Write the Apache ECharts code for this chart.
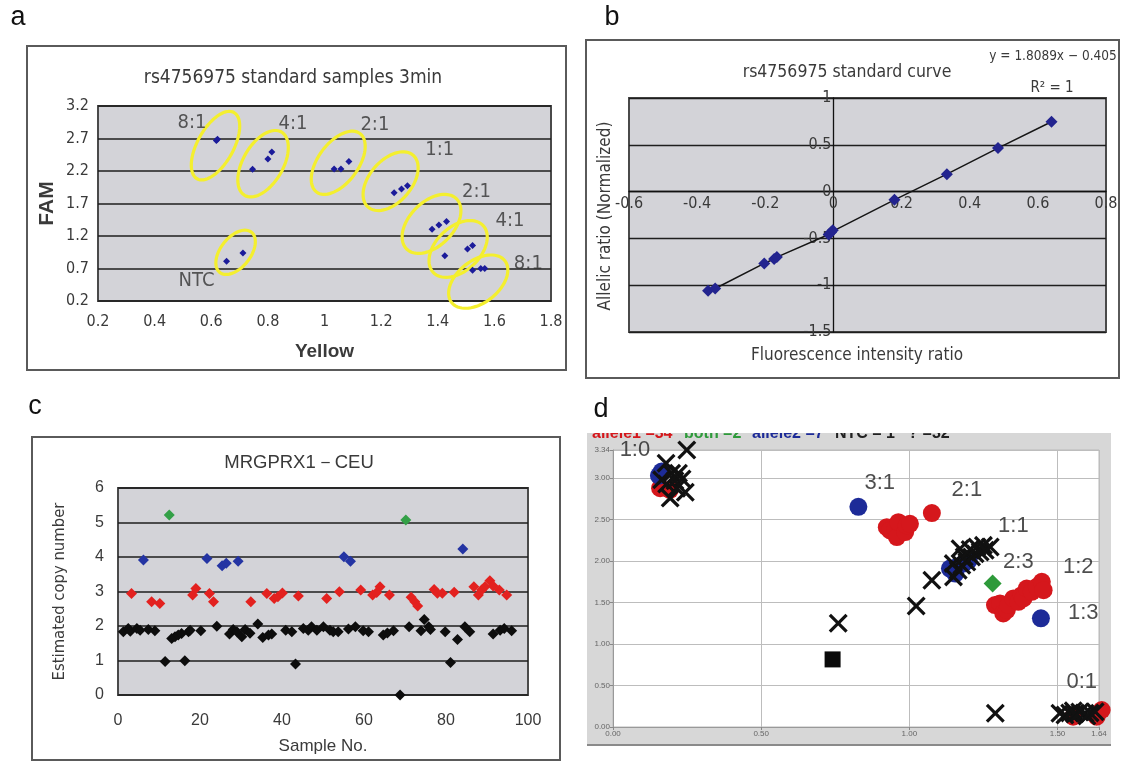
<!DOCTYPE html>
<html><head><meta charset="utf-8">
<script src="https://cdn.jsdelivr.net/npm/echarts@6/dist/echarts.min.js"></script>
<style>html,body{margin:0;padding:0;background:#fff}#main{width:1124px;height:763px}</style>
</head><body><div id="main"></div>
<script>
// ---------- Panel a: rs4756975 standard samples 3min ----------
const aYellow = [0.622,0.618,0.746,0.800,0.814,1.034,1.058,1.086,1.246,1.272,1.293,1.380,1.404,1.431,1.425,1.505,1.523,1.523,1.552,1.566,0.654,0.712];
const aFAM    = [2.69,2.67,2.226,2.385,2.494,2.23,2.23,2.345,1.866,1.922,1.974,1.303,1.37,1.423,0.897,0.999,1.052,0.672,0.70,0.70,0.81,0.937];
// ellipse ends (x1,y1,x2,y2) in data units
const aEllipses = [
  [0.680,3.10,0.550,2.08],
  [0.848,2.80,0.718,1.825],
  [1.125,2.777,0.972,1.876],
  [1.313,2.443,1.154,1.644],
  [1.466,1.773,1.290,1.000],
  [1.560,1.362,1.384,0.640],
  [1.637,0.820,1.449,0.176],
  [0.742,1.258,0.630,0.640]
];
const aLabelText = ['8:1','4:1','2:1','1:1','2:1','4:1','8:1','NTC'];
const aLabelX = [0.532,0.889,1.178,1.407,1.537,1.655,1.72,0.548];
const aLabelY = [2.94,2.93,2.91,2.52,1.876,1.44,0.768,0.51];

// ---------- Panel b: standard curve ----------
const bX = [-0.368,-0.347,-0.203,-0.174,-0.166,-0.014,-0.007,-0.002,0.179,0.333,0.483,0.640];
const bY = [-1.06,-1.035,-0.767,-0.72,-0.70,-0.458,-0.433,-0.412,-0.088,0.186,0.465,0.746];

// ---------- Panel c: MRGPRX1-CEU ----------
const cBlack = [[1.3,1.83],[2.5,1.93],[3.0,1.85],[4.6,1.93],[5.4,1.88],[7.4,1.90],[9.0,1.86],[11.5,0.97],[13.1,1.64],[13.9,1.69],[14.7,1.74],[15.5,1.78],[16.3,0.99],[17.2,1.83],[17.6,1.88],[20.2,1.86],[24.1,1.99],[27.2,1.77],[28.1,1.90],[29.0,1.83],[30.2,1.69],[31.0,1.90],[32.2,1.79],[34.1,2.06],[35.3,1.67],[36.7,1.74],[37.5,1.77],[40.9,1.88],[42.4,1.83],[43.3,0.90],[45.2,1.93],[46.4,1.88],[47.2,1.98],[48.5,1.88],[50.1,1.98],[51.7,1.88],[52.5,1.83],[53.7,1.83],[56.2,1.91],[57.9,1.98],[59.8,1.86],[61.1,1.83],[64.7,1.74],[65.7,1.80],[67.2,1.86],[68.8,0.0],[71.0,1.98],[73.9,1.86],[74.7,2.19],[75.8,1.98],[76.2,1.90],[79.8,1.83],[81.1,0.94],[82.8,1.61],[84.6,1.98],[85.8,1.83],[91.5,1.77],[93.2,1.88],[94.2,1.93],[96.0,1.86]];
const cRed = [[3.3,2.94],[8.2,2.70],[10.2,2.65],[18.2,2.90],[19.0,3.09],[22.3,2.94],[23.3,2.70],[32.4,2.70],[36.3,2.94],[38.1,2.80],[39.0,2.85],[40.1,2.96],[44.0,2.87],[50.9,2.80],[54.0,2.99],[59.2,3.04],[62.1,2.90],[63.1,2.97],[63.9,3.14],[66.2,2.90],[71.5,2.83],[72.4,2.70],[73.1,2.58],[77.1,3.06],[77.9,2.95],[79.1,2.95],[82.0,2.98],[86.8,3.14],[87.9,2.90],[88.7,3.04],[89.5,3.14],[90.7,3.31],[91.5,3.16],[93.0,3.04],[94.8,2.90]];
const cBlue = [[6.2,3.91],[21.7,3.96],[25.4,3.75],[26.4,3.82],[29.3,3.88],[55.1,4.01],[56.7,3.88],[84.1,4.23]];
const cGreen = [[12.5,5.22],[70.2,5.07]];

// ---------- Panel d: allele cluster plot ----------
const dRed = [[0.159,2.88],[0.192,2.86],[0.924,2.41],[0.935,2.37],[0.953,2.39],[0.958,2.29],[0.963,2.47],[0.986,2.35],[0.991,2.43],[1.002,2.45],[1.076,2.58],[1.289,1.47],[1.306,1.49],[1.317,1.37],[1.329,1.41],[1.334,1.47],[1.351,1.55],[1.368,1.51],[1.379,1.59],[1.385,1.55],[1.396,1.67],[1.413,1.63],[1.430,1.69],[1.447,1.75],[1.453,1.65],[1.553,0.125],[1.632,0.125],[1.649,0.205]];
const dBlue = [[0.164,3.08],[0.155,3.03],[0.828,2.655],[1.137,1.91],[1.155,1.85],[1.160,1.93],[1.183,1.97],[1.200,2.01],[1.444,1.31]];
const dGreen = [[1.281,1.73]];
const dNTC = [[0.741,0.815]];
const dUnknown = [[0.249,3.34],[0.179,3.18],[0.198,3.06],[0.181,2.93],[0.233,2.99],[0.244,2.83],[0.193,2.76],[0.215,2.88],[0.164,2.98],[0.209,2.97],[0.221,3.06],[0.760,1.25],[1.023,1.46],[1.076,1.77],[1.149,1.81],[1.148,1.97],[1.165,1.89],[1.171,2.15],[1.177,1.95],[1.185,2.05],[1.194,1.99],[1.205,2.14],[1.210,2.05],[1.222,2.09],[1.228,2.17],[1.239,2.11],[1.250,2.19],[1.256,2.13],[1.273,2.17],[1.290,0.165],[1.508,0.165],[1.525,0.145],[1.541,0.17],[1.553,0.197],[1.558,0.157],[1.575,0.18],[1.593,0.165],[1.599,0.133],[1.610,0.17],[1.627,0.185]];
const dLabelText = ['1:0','3:1','2:1','1:1','2:3','1:2','1:3','0:1'];
const dLabelX = [0.074,0.90,1.194,1.351,1.368,1.57,1.587,1.582];
const dLabelY = [3.34,2.94,2.86,2.43,1.99,1.93,1.37,0.546];

// ---------- styles ----------
const NARROW = "'Liberation Sans Narrow','DejaVu Sans Condensed','Liberation Sans',sans-serif";
const SANS = "'Liberation Sans',Arial,sans-serif";
const PLOT_BG = '#d3d3d8';
const ELLIPSE_MINOR = [18,20,20,21,22,22,21,15];
const X_PATH = 'path://M0,1.2 L1.2,0 L5,3.8 L8.8,0 L10,1.2 L6.2,5 L10,8.8 L8.8,10 L5,6.2 L1.2,10 L0,8.8 L3.8,5 Z';

const chart = echarts.init(document.getElementById('main'), null, {renderer:'canvas'});

function zip(xs, ys){ return xs.map((x,i)=>[x, ys[i]]); }
const bPts = zip(bX, bY).sort((p,q)=>p[0]-q[0]);

function ellipseItem(params, api){
  const p1 = api.coord([api.value(0), api.value(1)]);
  const p2 = api.coord([api.value(2), api.value(3)]);
  const cx = (p1[0]+p2[0])/2, cy = (p1[1]+p2[1])/2;
  const dx = p1[0]-p2[0], dy = p1[1]-p2[1];
  const a = Math.sqrt(dx*dx+dy*dy)/2, b = ELLIPSE_MINOR[params.dataIndex];
  const ang = Math.atan2(dy, dx), ca = Math.cos(ang), sa = Math.sin(ang);
  const pts = [];
  for (let i=0;i<72;i++){
    const t = i/72*Math.PI*2, u = a*Math.cos(t), v = b*Math.sin(t);
    pts.push([cx + u*ca - v*sa, cy + u*sa + v*ca]);
  }
  return {type:'polygon', shape:{points:pts}, style:{fill:'none', stroke:'#f4ef2e', lineWidth:3.2}};
}

const gridCommon = {show:true, outerBoundsMode:'none', containLabel:false};
const solid = c => ({color:c, opacity:1});

const option = {
  animation:false,
  backgroundColor:'#ffffff',
  grid:[
    Object.assign({left:98, top:106, width:453, height:195, backgroundColor:PLOT_BG, borderColor:'#4a4a4a', borderWidth:2}, gridCommon),
    Object.assign({left:629, top:98, width:477, height:234, backgroundColor:PLOT_BG, borderColor:'#4a4a4a', borderWidth:2}, gridCommon),
    Object.assign({left:118, top:488, width:410, height:207, backgroundColor:PLOT_BG, borderColor:'#4a4a4a', borderWidth:2}, gridCommon),
    Object.assign({left:613, top:450, width:486, height:277, backgroundColor:'#ffffff', borderColor:'#b8b8b8', borderWidth:1}, gridCommon)
  ],
  xAxis:[
    {gridIndex:0, type:'value', min:0.2, max:1.8, interval:0.2,
     axisLine:{show:false}, axisTick:{show:false}, splitLine:{show:false},
     axisLabel:{fontFamily:NARROW, fontSize:16, color:'#3a3a3a', margin:13},
     name:'Yellow', nameLocation:'middle', nameGap:41,
     nameTextStyle:{fontFamily:SANS, fontSize:19, fontWeight:'bold', color:'#3a3a3a'}},
    {gridIndex:1, type:'value', min:-0.6, max:0.8, interval:0.2, offset:0,
     axisLine:{show:true, onZero:false, lineStyle:{color:'#111', width:1.3}}, axisTick:{show:false}, splitLine:{show:false},
     axisLabel:{fontFamily:NARROW, fontSize:16, color:'#3a3a3a', margin:4}},
    {gridIndex:2, type:'value', min:0, max:100, interval:20,
     axisLine:{show:false}, axisTick:{show:false}, splitLine:{show:false},
     axisLabel:{fontFamily:SANS, fontSize:16, color:'#3a3a3a', margin:18},
     name:'Sample No.', nameLocation:'middle', nameGap:43,
     nameTextStyle:{fontFamily:SANS, fontSize:17, color:'#3a3a3a'}},
    {gridIndex:3, type:'value', min:0, max:1.64, interval:0.5,
     axisLine:{show:true, lineStyle:{color:'#999'}}, axisTick:{show:true, length:3, lineStyle:{color:'#888'}},
     splitLine:{show:true, lineStyle:{color:'#bdbdbd', width:1}},
     axisLabel:{fontFamily:SANS, fontSize:8, color:'#666', margin:3, showMaxLabel:true, formatter:v=>v.toFixed(2)}}
  ],
  yAxis:[
    {gridIndex:0, type:'value', min:0.2, max:3.2, interval:0.5,
     axisLine:{show:false}, axisTick:{show:false},
     splitLine:{show:true, lineStyle:{color:'#1e1e1e', width:1.6}},
     axisLabel:{fontFamily:NARROW, fontSize:16, color:'#3a3a3a', margin:9},
     name:'FAM', nameLocation:'middle', nameGap:40,
     nameTextStyle:{fontFamily:SANS, fontSize:21, fontWeight:'bold', color:'#3a3a3a'}},
    {gridIndex:1, type:'value', min:-1.5, max:1, interval:0.5, offset:0,
     axisLine:{show:true, onZero:false, lineStyle:{color:'#111', width:1.3}}, axisTick:{show:false},
     splitLine:{show:true, lineStyle:{color:'#1e1e1e', width:1.4}},
     axisLabel:{fontFamily:NARROW, fontSize:16, color:'#3a3a3a', margin:2}},
    {gridIndex:2, type:'value', min:0, max:6, interval:1,
     axisLine:{show:false}, axisTick:{show:false},
     splitLine:{show:true, lineStyle:{color:'#1e1e1e', width:1.6}},
     axisLabel:{fontFamily:SANS, fontSize:16, color:'#3a3a3a', margin:14},
     name:'Estimated copy number', nameLocation:'middle', nameGap:50,
     nameTextStyle:{fontFamily:NARROW, fontSize:16.5, color:'#3a3a3a'}},
    {gridIndex:3, type:'value', min:0, max:3.34, interval:0.5,
     axisLine:{show:true, lineStyle:{color:'#999'}}, axisTick:{show:true, length:3, lineStyle:{color:'#888'}},
     splitLine:{show:true, lineStyle:{color:'#bdbdbd', width:1}},
     axisLabel:{fontFamily:SANS, fontSize:8, color:'#666', margin:3, showMaxLabel:true, formatter:v=>v.toFixed(2)}}
  ],
  series:[
    // panel a
    {type:'custom', xAxisIndex:0, yAxisIndex:0, data:aEllipses, renderItem:ellipseItem, z:3, silent:true, clip:false,
     encode:{x:[0,2], y:[1,3]}},
    {type:'scatter', xAxisIndex:0, yAxisIndex:0, data:zip(aYellow, aFAM), symbol:'diamond', symbolSize:7,
     itemStyle:solid('#1b1b9a'), z:4},
    {type:'scatter', xAxisIndex:0, yAxisIndex:0, data:zip(aLabelX, aLabelY), symbolSize:1, itemStyle:{color:'rgba(0,0,0,0)'},
     label:{show:true, position:'inside', formatter:p=>aLabelText[p.dataIndex], fontFamily:NARROW, fontSize:20, color:'#333'}, z:5, silent:true},
    // panel b
    {type:'line', xAxisIndex:1, yAxisIndex:1, data:bPts, symbol:'diamond', symbolSize:12, showAllSymbol:true,
     lineStyle:{color:'#151515', width:1.5}, itemStyle:solid('#23248f'), z:4},
    // panel c
    {type:'scatter', xAxisIndex:2, yAxisIndex:2, data:cBlack, symbol:'diamond', symbolSize:11, itemStyle:solid('#0d0d0d'), z:4},
    {type:'scatter', xAxisIndex:2, yAxisIndex:2, data:cRed, symbol:'diamond', symbolSize:11, itemStyle:solid('#e3211f'), z:4},
    {type:'scatter', xAxisIndex:2, yAxisIndex:2, data:cBlue, symbol:'diamond', symbolSize:11, itemStyle:solid('#2434a3'), z:4},
    {type:'scatter', xAxisIndex:2, yAxisIndex:2, data:cGreen, symbol:'diamond', symbolSize:11, itemStyle:solid('#33a047'), z:4},
    // panel d
    {type:'scatter', xAxisIndex:3, yAxisIndex:3, data:dRed, symbol:'circle', symbolSize:18, itemStyle:solid('#d5171c'), clip:false, z:4},
    {type:'scatter', xAxisIndex:3, yAxisIndex:3, data:dBlue, symbol:'circle', symbolSize:18, itemStyle:solid('#1d2b98'), clip:false, z:4},
    {type:'scatter', xAxisIndex:3, yAxisIndex:3, data:dGreen, symbol:'diamond', symbolSize:18, itemStyle:solid('#2e9a3a'), clip:false, z:4},
    {type:'scatter', xAxisIndex:3, yAxisIndex:3, data:dUnknown, symbol:X_PATH, symbolSize:19, itemStyle:solid('#111111'), clip:false, z:5},
    {type:'scatter', xAxisIndex:3, yAxisIndex:3, data:dNTC, symbol:'rect', symbolSize:16, itemStyle:solid('#0a0a0a'), clip:false, z:5},
    {type:'scatter', xAxisIndex:3, yAxisIndex:3, data:zip(dLabelX, dLabelY), symbolSize:1, itemStyle:{color:'rgba(0,0,0,0)'},
     label:{show:true, position:'inside', formatter:p=>dLabelText[p.dataIndex], fontFamily:SANS, fontSize:22, color:'#222'}, z:6, silent:true, clip:false}
  ],
  graphic:[
    // panel frames
    {type:'rect', z:-5, shape:{x:27,y:46,width:539,height:324}, style:{fill:'none', stroke:'#5a5a5a', lineWidth:2}},
    {type:'rect', z:-5, shape:{x:586,y:40,width:533,height:338}, style:{fill:'none', stroke:'#5a5a5a', lineWidth:2}},
    {type:'rect', z:-5, shape:{x:32,y:437,width:528,height:323}, style:{fill:'none', stroke:'#5a5a5a', lineWidth:2}},
    {type:'rect', z:-5, shape:{x:587,y:433,width:524,height:312}, style:{fill:'#d7d7d7'}},
    {type:'line', z:-4, shape:{x1:587,y1:745,x2:1111,y2:745}, style:{stroke:'#8a8a8a', lineWidth:2}},
    // panel d legend (clipped at top)
    {type:'text', x:592, y:434, style:{text:'allele1 =34', font:'bold 16px '+SANS, fill:'#d5171c', align:'left', verticalAlign:'middle'}},
    {type:'text', x:684, y:434, style:{text:'both =2', font:'bold 16px '+SANS, fill:'#2e9a3a', align:'left', verticalAlign:'middle'}},
    {type:'text', x:752, y:434, style:{text:'allele2 =7', font:'bold 16px '+SANS, fill:'#1d2b98', align:'left', verticalAlign:'middle'}},
    {type:'text', x:835, y:434, style:{text:'NTC = 1   ? =32', font:'bold 16px '+SANS, fill:'#222', align:'left', verticalAlign:'middle'}},
    {type:'rect', z:10, shape:{x:586,y:423,width:530,height:10}, style:{fill:'#ffffff'}},
    // panel letters
    {type:'text', z:20, x:18, y:18, style:{text:'a', font:'27px '+SANS, fill:'#111', align:'center', verticalAlign:'middle'}},
    {type:'text', z:20, x:612, y:18, style:{text:'b', font:'27px '+SANS, fill:'#111', align:'center', verticalAlign:'middle'}},
    {type:'text', z:20, x:35, y:407, style:{text:'c', font:'27px '+SANS, fill:'#111', align:'center', verticalAlign:'middle'}},
    {type:'text', z:20, x:601, y:410, style:{text:'d', font:'27px '+SANS, fill:'#111', align:'center', verticalAlign:'middle'}},
    // titles
    {type:'text', x:293, y:78, style:{text:'rs4756975 standard samples 3min', font:'19px '+NARROW, fill:'#3a3a3a', align:'center', verticalAlign:'middle'}},
    {type:'text', x:847, y:72, style:{text:'rs4756975 standard curve', font:'17.5px '+NARROW, fill:'#3a3a3a', align:'center', verticalAlign:'middle'}},
    {type:'text', x:1053, y:56, style:{text:'y = 1.8089x \u2212 0.405', font:'13.5px '+NARROW, fill:'#3a3a3a', align:'center', verticalAlign:'middle'}},
    {type:'text', x:1052, y:88, style:{text:'R\u00b2 = 1', font:'15px '+NARROW, fill:'#3a3a3a', align:'center', verticalAlign:'middle'}},
    {type:'text', x:857, y:356, style:{text:'Fluorescence intensity ratio', font:'17px '+NARROW, fill:'#3a3a3a', align:'center', verticalAlign:'middle'}},
    {type:'text', x:606, y:216, rotation:Math.PI/2, style:{text:'Allelic ratio (Normalized)', font:'17px '+NARROW, fill:'#3a3a3a', align:'center', verticalAlign:'middle'}},
    {type:'text', x:299, y:463, style:{text:'MRGPRX1\uff0dCEU', font:'18.5px '+SANS, fill:'#3a3a3a', align:'center', verticalAlign:'middle'}}
  ]
};
chart.setOption(option);

// Panel b: move both axes (line + labels) onto the zero crossing, using the library's own scale
const zeroPx = chart.convertToPixel({gridIndex:1}, [0, 0]);
const cornerPx = chart.convertToPixel({gridIndex:1}, [-0.6, -1.5]);
chart.setOption({
  xAxis:[{}, {offset: -(cornerPx[1] - zeroPx[1])}],
  yAxis:[{}, {offset: -(zeroPx[0] - cornerPx[0])}]
});
</script></body></html>
